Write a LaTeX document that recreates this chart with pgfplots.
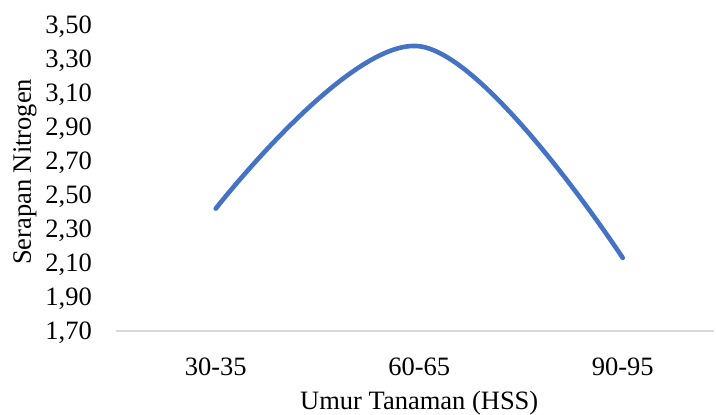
\documentclass[border=0pt]{standalone}
\usepackage{fontspec}
\setmainfont{Liberation Serif}
\usepackage{pgfplots}
\pgfplotsset{compat=1.18}
\definecolor{lineblue}{RGB}{68,114,196}
\definecolor{axgray}{RGB}{217,217,217}
\newcommand{\bigf}{\fontsize{26.5}{31}\selectfont}
\begin{document}
\begin{tikzpicture}
\useasboundingbox (-114pt,-84pt) rectangle (602pt,331pt);
\begin{axis}[
  scale only axis,
  x=203.5pt, y=170pt,
  xmin=-0.5, xmax=2.45, ymin=1.70, ymax=3.50,
  xtick={0,1,2}, xticklabels={30-35,60-65,90-95},
  ytick={1.70,1.90,2.10,2.30,2.50,2.70,2.90,3.10,3.30,3.50},
  yticklabels={{1,70},{1,90},{2,10},{2,30},{2,50},{2,70},{2,90},{3,10},{3,30},{3,50}},
  axis line style={draw=none},
  major tick length=0pt,
  clip=false,
  xticklabel style={font=\bigf, inner sep=0pt, anchor=base, yshift=-44.5pt},
  yticklabel style={font=\bigf, inner sep=0pt, anchor=base east, xshift=-22pt, yshift=-8.9pt},
  xlabel={Umur Tanaman (HSS)},
  xlabel style={font=\bigf, inner sep=0pt, at={(axis description cs:0.5085,0)}, anchor=base, yshift=-78.5pt},
  ylabel={Serapan Nitrogen},
  ylabel style={font=\bigf, inner sep=0pt, at={(axis description cs:0,0.52)}, anchor=center, yshift=89pt},
]
\draw[axgray, line width=1.5pt] (axis cs:-0.49,1.70) -- (axis cs:2.45,1.70);
\addplot[lineblue, line width=4.6pt, line cap=round, smooth, tension=0.62] coordinates {
  (0,2.42) (1,3.375) (2,2.13)
};
\end{axis}
\end{tikzpicture}
\end{document}
